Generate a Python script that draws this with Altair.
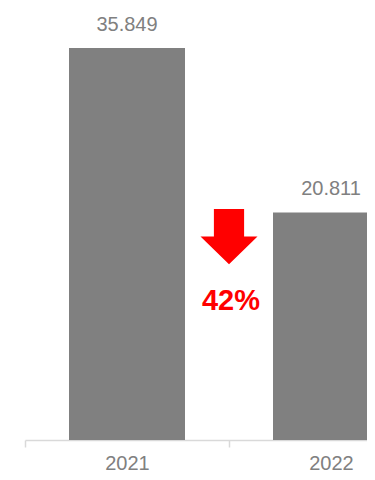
import altair as alt
import pandas as pd

years = ["2021", "2022"]
values = [35.849, 20.811]
labels = ["35.849", "20.811"]
change_label = "42%"
arrow_value = 18.6
text_value = 12.7

bars_df = pd.DataFrame({"year": years, "value": values, "label": labels})
ann_df = pd.DataFrame({"year": [years[0]], "arrow": [arrow_value], "tv": [text_value], "txt": [change_label]})

GRAY = "#808080"
FONT = "Liberation Sans, Arial, sans-serif"
xscale = alt.Scale(domain=years, range=[0, 408], paddingInner=0, paddingOuter=0)
yscale = alt.Scale(domain=[0, 39.5], nice=False, zero=True)

x_enc = alt.X("year:N", scale=xscale, sort=years,
              axis=alt.Axis(title=None, tickBand="extent", domainColor="#d9d9d9", tickColor="#d9d9d9",
                            domainWidth=1.5, tickWidth=1.5, tickSize=7, labelAngle=0,
                            labelFont=FONT, labelFontSize=20, labelColor=GRAY,
                            labelPadding=6, grid=False))

bars = alt.Chart(bars_df).mark_bar(color=GRAY, size=116).encode(
    x=x_enc,
    y=alt.Y("value:Q", scale=yscale, axis=None),
)

vals = alt.Chart(bars_df).mark_text(font=FONT, fontSize=20, color=GRAY,
                                     baseline="alphabetic", dy=-17).encode(
    x=alt.X("year:N", scale=xscale, sort=years),
    y=alt.Y("value:Q", scale=yscale),
    text="label:N",
)

arrow_path = "M-0.53,-0.97 L0.53,-0.97 L0.53,0 L1,0 L0,0.97 L-1,0 L-0.53,0 Z"
arrow = alt.Chart(ann_df).mark_point(shape=arrow_path, filled=True, color="#ff0000", opacity=1,
                                     size=3249, strokeWidth=0).encode(
    x=alt.X("year:N", scale=xscale, sort=years, bandPosition=1),
    y=alt.Y("arrow:Q", scale=yscale),
)

pct = alt.Chart(ann_df).mark_text(font=FONT, fontSize=29, fontWeight="bold", color="#ff0000",
                                  baseline="middle", dx=2).encode(
    x=alt.X("year:N", scale=xscale, sort=years, bandPosition=1),
    y=alt.Y("tv:Q", scale=yscale),
    text="txt:N",
)

chart = alt.layer(bars, vals, arrow, pct).properties(
    width=342, height=432,
    autosize=alt.AutoSizeParams(type="none"),
    padding={"left": 17, "top": 0, "right": 0, "bottom": 32},
).configure_view(stroke=None)

chart.save("out.html", embed_options={"renderer": "svg", "actions": False})
